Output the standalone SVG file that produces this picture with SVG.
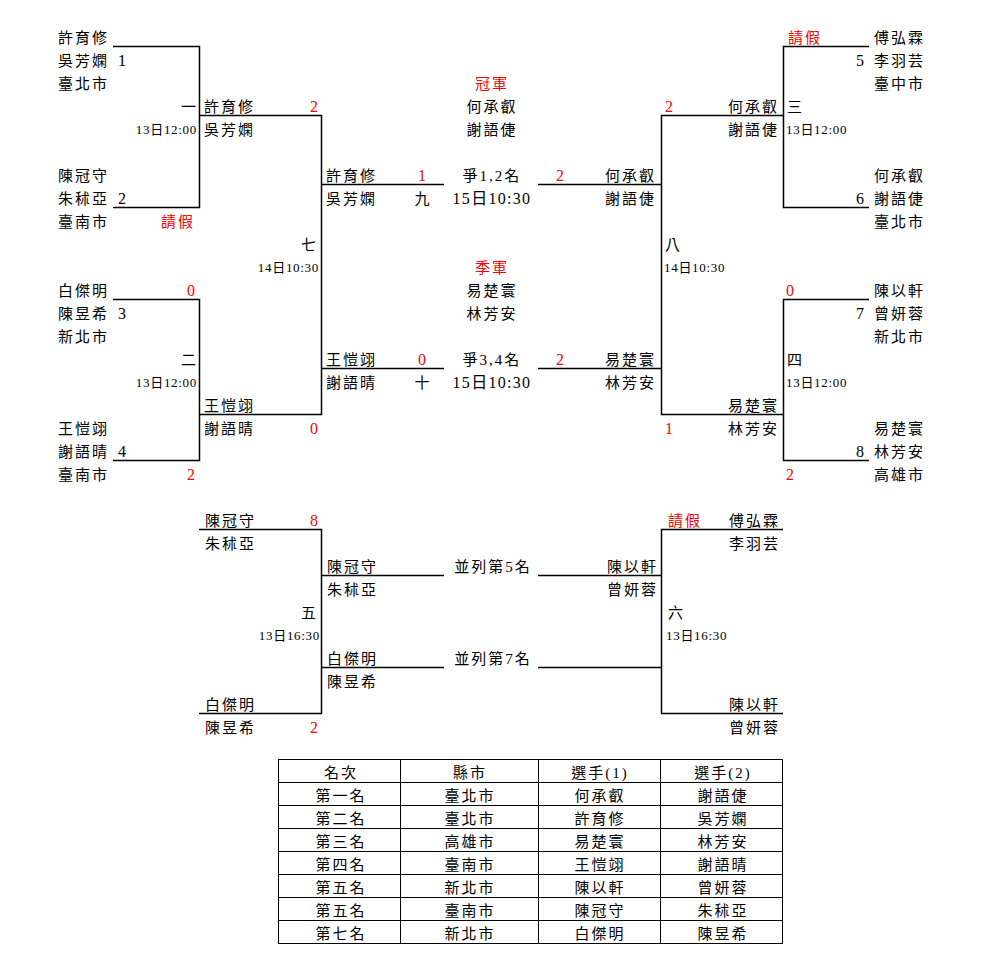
<svg xmlns="http://www.w3.org/2000/svg" width="984" height="967" viewBox="0 0 984 967">
<style>
text{font-family:"Liberation Serif","Noto Sans CJK TC",serif;font-size:15px;letter-spacing:2px;fill:#000}
.n{font-size:16px;letter-spacing:0}
.m{font-size:13px;letter-spacing:0.7px}
.d{font-size:16px;letter-spacing:1.3px}
.e{text-anchor:end}
.c{text-anchor:middle}
.r{fill:#f00}
.ln{fill:none;stroke:#000;stroke-width:1.5}
.tb{fill:none;stroke:#000;stroke-width:1}
</style>
<rect width="984" height="967" fill="#fff"/>
<g id="connectors" class="ln">
<path d="M113 46.5H199.5V207.5H113"/>
<path d="M199.5 115.5H321.5V414.5H199.5"/>
<path d="M113 299.5H199.5V460.5H113"/>
<path d="M321.5 184.5H444"/>
<path d="M321.5 368.5H444"/>
<path d="M538 184.5H661.5"/>
<path d="M538 368.5H661.5"/>
<path d="M869 46.5H783.5V207.5H869"/>
<path d="M783.5 115.5H661.5V414.5H783.5"/>
<path d="M869 299.5H783.5V460.5H869"/>
<path d="M199 529.5H321.5V713.5H199"/>
<path d="M321.5 575.5H444"/>
<path d="M321.5 667.5H444"/>
<path d="M783 529.5H661.5V713.5H783"/>
<path d="M538 575.5H661.5"/>
<path d="M538 667.5H661.5"/>
</g>
<g id="seed1"><text x="58" y="43">許育修</text><text x="58" y="66">吳芳嫻</text><text class="n" x="118" y="66">1</text><text x="58" y="89">臺北市</text></g>
<g id="seed2"><text x="58" y="181">陳冠守</text><text x="58" y="204">朱秫亞</text><text class="n" x="118" y="204">2</text><text x="58" y="227">臺南市</text><text class="r" x="161" y="227">請假</text></g>
<g id="match1"><text class="e" x="198" y="112">一</text><text class="m e" x="197" y="134">13日12:00</text><text x="204" y="112">許育修</text><text x="204" y="135">吳芳嫻</text><text class="n e r" x="318" y="112">2</text></g>
<g id="seed3"><text x="58" y="296">白傑明</text><text class="n e r" x="195" y="296">0</text><text x="58" y="319">陳昱希</text><text class="n" x="118" y="319">3</text><text x="58" y="342">新北市</text></g>
<g id="seed4"><text x="58" y="434">王愷翊</text><text x="58" y="457">謝語晴</text><text class="n" x="118" y="457">4</text><text x="58" y="480">臺南市</text><text class="n e r" x="195" y="480">2</text></g>
<g id="match2"><text class="e" x="198" y="365">二</text><text class="m e" x="197" y="387">13日12:00</text><text x="204" y="411">王愷翊</text><text x="204" y="434">謝語晴</text><text class="n e r" x="318" y="434">0</text></g>
<g id="match7"><text class="e" x="318" y="250">七</text><text class="m e" x="319" y="272">14日10:30</text></g>
<g id="champion"><text class="c r" x="492" y="89">冠軍</text><text class="c" x="492" y="112">何承叡</text><text class="c" x="492" y="135">謝語倢</text></g>
<g id="match9"><text x="326" y="181">許育修</text><text x="326" y="204">吳芳嫻</text><text class="n c r" x="422" y="181">1</text><text class="c" x="423" y="204">九</text><text class="c" x="492" y="181">爭1,2名</text><text class="d c" x="492" y="204">15日10:30</text><text class="n c r" x="560" y="181">2</text><text class="e" x="656" y="181">何承叡</text><text class="e" x="656" y="204">謝語倢</text></g>
<g id="third"><text class="c r" x="492" y="273">季軍</text><text class="c" x="492" y="296">易楚寰</text><text class="c" x="492" y="319">林芳安</text></g>
<g id="match10"><text x="326" y="365">王愷翊</text><text x="326" y="388">謝語晴</text><text class="n c r" x="422" y="365">0</text><text class="c" x="423" y="388">十</text><text class="c" x="492" y="365">爭3,4名</text><text class="d c" x="492" y="388">15日10:30</text><text class="n c r" x="560" y="365">2</text><text class="e" x="656" y="365">易楚寰</text><text class="e" x="656" y="388">林芳安</text></g>
<g id="seed5"><text class="r" x="788" y="43">請假</text><text x="874" y="43">傅弘霖</text><text class="n e" x="864" y="66">5</text><text x="874" y="66">李羽芸</text><text x="874" y="89">臺中市</text></g>
<g id="seed6"><text x="874" y="181">何承叡</text><text class="n e" x="864" y="204">6</text><text x="874" y="204">謝語倢</text><text x="874" y="227">臺北市</text></g>
<g id="match3"><text x="787" y="112">三</text><text class="m" x="786" y="134">13日12:00</text><text class="n r" x="665" y="112">2</text><text class="e" x="779" y="112">何承叡</text><text class="e" x="779" y="135">謝語倢</text></g>
<g id="match8"><text x="665" y="250">八</text><text class="m" x="664" y="272">14日10:30</text></g>
<g id="seed7"><text class="n r" x="786" y="296">0</text><text x="874" y="296">陳以軒</text><text class="n e" x="864" y="319">7</text><text x="874" y="319">曾妍蓉</text><text x="874" y="342">新北市</text></g>
<g id="seed8"><text x="874" y="434">易楚寰</text><text class="n e" x="864" y="457">8</text><text x="874" y="457">林芳安</text><text class="n r" x="786" y="480">2</text><text x="874" y="480">高雄市</text></g>
<g id="match4"><text x="787" y="365">四</text><text class="m" x="786" y="387">13日12:00</text><text class="e" x="779" y="411">易楚寰</text><text class="n r" x="665" y="434">1</text><text class="e" x="779" y="434">林芳安</text></g>
<g id="match5"><text x="205" y="526">陳冠守</text><text class="n e r" x="318" y="526">8</text><text x="205" y="549">朱秫亞</text><text x="327" y="572">陳冠守</text><text x="327" y="595">朱秫亞</text><text class="e" x="318" y="618">五</text><text class="m e" x="320" y="640">13日16:30</text><text x="327" y="664">白傑明</text><text x="327" y="687">陳昱希</text><text x="205" y="710">白傑明</text><text x="205" y="733">陳昱希</text><text class="n e r" x="318" y="733">2</text></g>
<g id="place5"><text class="c" x="493" y="572">並列第5名</text></g>
<g id="place7"><text class="c" x="493" y="664">並列第7名</text></g>
<g id="match6"><text class="r" x="668" y="526">請假</text><text class="e" x="780" y="526">傅弘霖</text><text class="e" x="780" y="549">李羽芸</text><text class="e" x="658" y="572">陳以軒</text><text class="e" x="658" y="595">曾妍蓉</text><text x="668" y="618">六</text><text class="m" x="666" y="640">13日16:30</text><text class="e" x="780" y="710">陳以軒</text><text class="e" x="780" y="733">曾妍蓉</text></g>
<g id="results-table">
<rect class="tb" x="278.5" y="759.5" width="504" height="184"/>
<path class="tb" d="M400.5 759.5V943.5M538.5 759.5V943.5M660.5 759.5V943.5M278.5 782.5H782.5M278.5 805.5H782.5M278.5 828.5H782.5M278.5 851.5H782.5M278.5 874.5H782.5M278.5 897.5H782.5M278.5 920.5H782.5"/>
<g class="c">
<text class="c" x="341" y="778">名次</text><text class="c" x="470" y="778">縣市</text><text class="c" x="600" y="778">選手(1)</text><text class="c" x="723" y="778">選手(2)</text>
<text class="c" x="341" y="801">第一名</text><text class="c" x="470" y="801">臺北市</text><text class="c" x="600" y="801">何承叡</text><text class="c" x="723" y="801">謝語倢</text>
<text class="c" x="341" y="824">第二名</text><text class="c" x="470" y="824">臺北市</text><text class="c" x="600" y="824">許育修</text><text class="c" x="723" y="824">吳芳嫻</text>
<text class="c" x="341" y="847">第三名</text><text class="c" x="470" y="847">高雄市</text><text class="c" x="600" y="847">易楚寰</text><text class="c" x="723" y="847">林芳安</text>
<text class="c" x="341" y="870">第四名</text><text class="c" x="470" y="870">臺南市</text><text class="c" x="600" y="870">王愷翊</text><text class="c" x="723" y="870">謝語晴</text>
<text class="c" x="341" y="893">第五名</text><text class="c" x="470" y="893">新北市</text><text class="c" x="600" y="893">陳以軒</text><text class="c" x="723" y="893">曾妍蓉</text>
<text class="c" x="341" y="916">第五名</text><text class="c" x="470" y="916">臺南市</text><text class="c" x="600" y="916">陳冠守</text><text class="c" x="723" y="916">朱秫亞</text>
<text class="c" x="341" y="939">第七名</text><text class="c" x="470" y="939">新北市</text><text class="c" x="600" y="939">白傑明</text><text class="c" x="723" y="939">陳昱希</text>
</g>
</g>
</svg>
